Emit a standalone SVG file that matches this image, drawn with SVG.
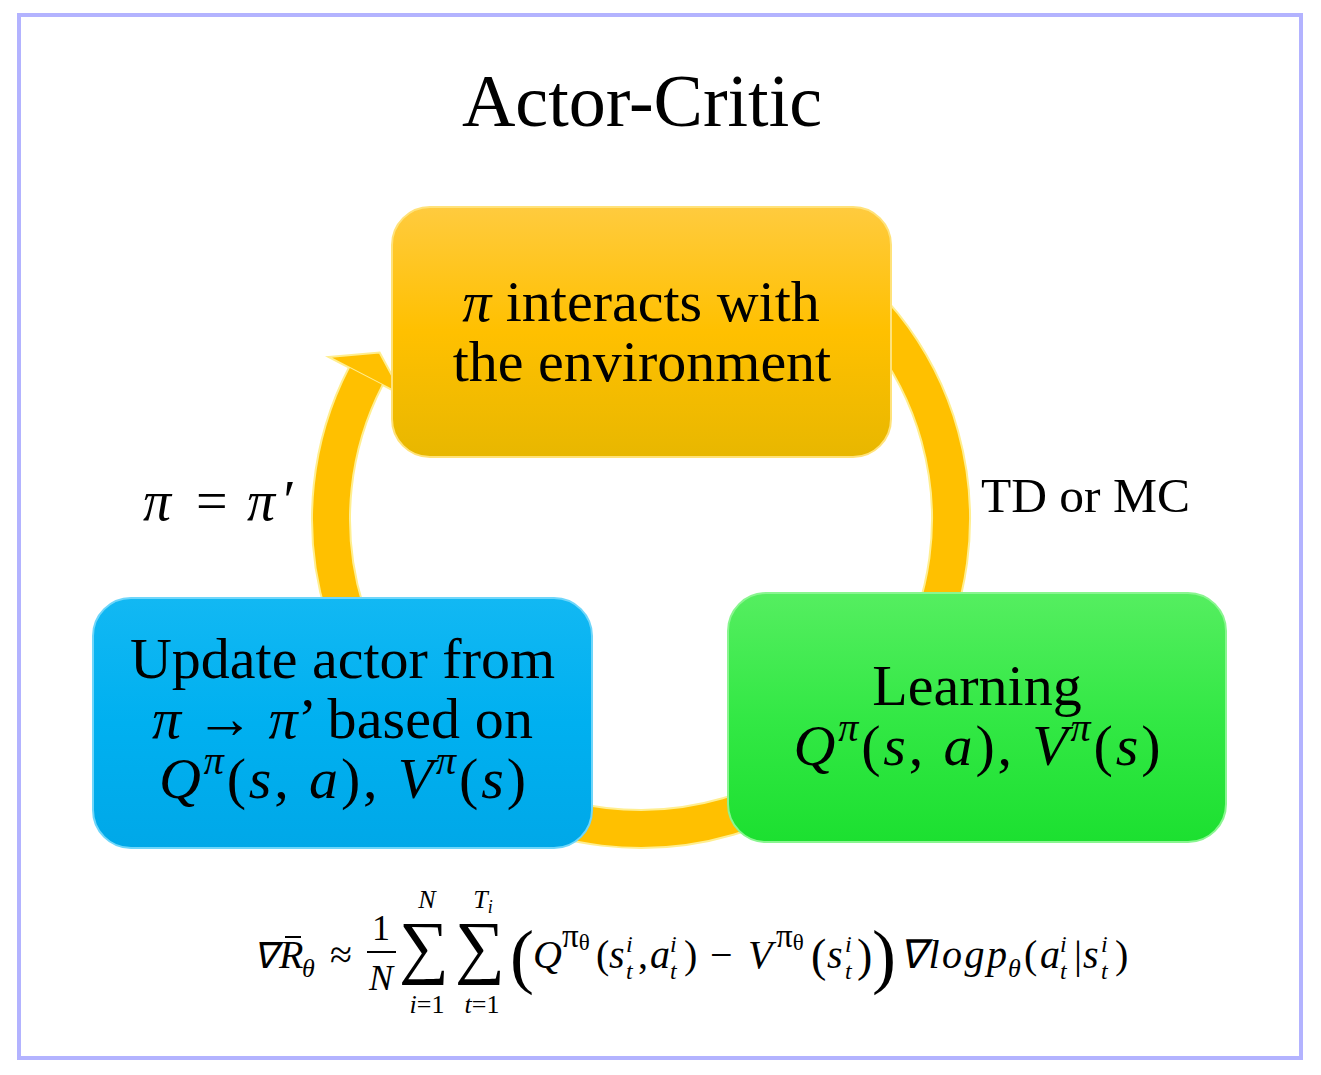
<svg xmlns="http://www.w3.org/2000/svg" width="1321" height="1075" viewBox="0 0 1321 1075">
<defs>
<style>
.t{font-family:"Liberation Serif","Times New Roman",serif;fill:#000}
.m{font-family:"Liberation Serif","Times New Roman",serif;font-style:italic;fill:#000}
.u{font-family:"Liberation Serif","Times New Roman",serif;font-style:normal}
.i{font-style:italic}
</style>
<linearGradient id="gy" x1="0" y1="0" x2="0" y2="1">
<stop offset="0" stop-color="#FFCB3E"/><stop offset="0.5" stop-color="#FFC000"/><stop offset="1" stop-color="#E8B700"/>
</linearGradient>
<linearGradient id="gb" x1="0" y1="0" x2="0" y2="1">
<stop offset="0" stop-color="#12B8F3"/><stop offset="0.5" stop-color="#00B0F0"/><stop offset="1" stop-color="#00A8E8"/>
</linearGradient>
<linearGradient id="gg" x1="0" y1="0" x2="0" y2="1">
<stop offset="0" stop-color="#55EE60"/><stop offset="0.5" stop-color="#33E845"/><stop offset="1" stop-color="#1CE030"/>
</linearGradient>
</defs>
<rect x="19" y="15" width="1282" height="1043" fill="#fff" stroke="#B3B3FF" stroke-width="4"/>
<text class="t" x="642" y="126" font-size="74" text-anchor="middle">Actor-Critic</text>
<g id="connectors">
<polygon points="328.5,357 379.6,352.5 403,395.7" fill="#FFC000" stroke="#FFEE90" stroke-width="2"/>
<path d="M 796 250.5 A 310 310 0 1 1 365.8 376.3" fill="none" stroke="#FFEE90" stroke-width="40"/>
<path d="M 796 250.5 A 310 310 0 1 1 365.8 376.3" fill="none" stroke="#FFC000" stroke-width="36"/>
</g>
<g id="node-interact">
<rect x="392" y="207" width="499" height="250" rx="38" fill="url(#gy)" stroke="#FFE27A" stroke-width="2"/>
<text class="t" x="641" y="321" font-size="58" text-anchor="middle"><tspan class="i">π</tspan> interacts with</text>
<text class="t" x="642" y="381" font-size="58" text-anchor="middle">the environment</text>
</g>
<g id="node-update">
<rect x="93" y="598" width="499" height="250" rx="38" fill="url(#gb)" stroke="#6FD6FA" stroke-width="2"/>
<text class="t" x="342.5" y="678" font-size="58" text-anchor="middle">Update actor from</text>
<text class="t" x="342.5" y="738" font-size="58" text-anchor="middle" textLength="381" lengthAdjust="spacing"><tspan class="i">π</tspan> → <tspan class="i">π</tspan>’ based on</text>
<text class="t" x="342.5" y="798" font-size="58" text-anchor="middle" textLength="367" lengthAdjust="spacing"><tspan class="i">Q</tspan><tspan class="i" font-size="40" dy="-24">π</tspan><tspan dy="24">(</tspan><tspan class="i">s</tspan>, <tspan class="i">a</tspan>), <tspan class="i">V</tspan><tspan class="i" font-size="40" dy="-24">π</tspan><tspan dy="24">(</tspan><tspan class="i">s</tspan>)</text>
</g>
<g id="node-learning">
<rect x="728" y="593" width="498" height="249" rx="38" fill="url(#gg)" stroke="#8AF590" stroke-width="2"/>
<text class="t" x="977" y="705" font-size="58" text-anchor="middle">Learning</text>
<text class="t" x="977" y="765" font-size="58" text-anchor="middle" textLength="367" lengthAdjust="spacing"><tspan class="i">Q</tspan><tspan class="i" font-size="40" dy="-24">π</tspan><tspan dy="24">(</tspan><tspan class="i">s</tspan>, <tspan class="i">a</tspan>), <tspan class="i">V</tspan><tspan class="i" font-size="40" dy="-24">π</tspan><tspan dy="24">(</tspan><tspan class="i">s</tspan>)</text>
</g>
<text class="t" x="981" y="512" font-size="49.5">TD or MC</text>
<text class="t" x="143" y="520" font-size="56"><tspan class="i">π</tspan><tspan x="196">=</tspan><tspan class="i" x="247">π</tspan><tspan class="i" x="280">′</tspan></text>
<g id="formula" class="m" font-size="40">
<text x="253" y="968" font-size="36">∇</text>
<text x="279" y="968">R</text>
<line x1="285" y1="937" x2="301" y2="937" stroke="#000" stroke-width="2"/>
<text x="302" y="977" font-size="26">θ</text>
<text class="u" x="330" y="968">≈</text>
<text class="u" x="381" y="940" font-size="36" text-anchor="middle">1</text>
<line x1="367" y1="952" x2="396" y2="952" stroke="#000" stroke-width="2"/>
<text x="381" y="990" font-size="36" text-anchor="middle">N</text>
<text class="u" x="424" y="970" font-size="70" text-anchor="middle">∑</text>
<text x="427" y="908" font-size="26" text-anchor="middle">N</text>
<text x="427" y="1013" font-size="26" text-anchor="middle">i<tspan class="u">=1</tspan></text>
<text class="u" x="480" y="970" font-size="70" text-anchor="middle">∑</text>
<text x="483" y="908" font-size="26" text-anchor="middle">T<tspan font-size="18" dy="5">i</tspan></text>
<text x="482" y="1013" font-size="26" text-anchor="middle">t<tspan class="u">=1</tspan></text>
<text class="u" x="510" y="980" font-size="72">(</text>
<text x="533" y="968">Q</text>
<text class="u" x="562" y="947" font-size="33">π<tspan font-size="23" dy="3">θ</tspan></text>
<text class="u" x="596" y="968">(</text>
<text x="609" y="968">s</text>
<text x="626" y="952" font-size="24">i</text><text x="626" y="979" font-size="24">t</text>
<text class="u" x="638" y="968">,</text>
<text x="650" y="968">a</text>
<text x="670" y="952" font-size="24">i</text><text x="670" y="979" font-size="24">t</text>
<text class="u" x="684" y="968">)</text>
<text class="u" x="710" y="968">−</text>
<text x="748" y="968">V</text>
<text class="u" x="776" y="947" font-size="33">π<tspan font-size="23" dy="3">θ</tspan></text>
<text class="u" x="811" y="971" font-size="46">(</text>
<text x="827" y="968">s</text>
<text x="845" y="952" font-size="24">i</text><text x="845" y="979" font-size="24">t</text>
<text class="u" x="857" y="971" font-size="46">)</text>
<text class="u" x="872" y="980" font-size="72">)</text>
<text x="899" y="968" textLength="108" lengthAdjust="spacing">∇logp</text>
<text x="1008" y="977" font-size="26">θ</text>
<text class="u" x="1024" y="968">(</text>
<text x="1040" y="968">a</text>
<text x="1060" y="952" font-size="24">i</text><text x="1060" y="979" font-size="24">t</text>
<text class="u" x="1074" y="968">|</text>
<text x="1083" y="968">s</text>
<text x="1101" y="952" font-size="24">i</text><text x="1101" y="979" font-size="24">t</text>
<text class="u" x="1115" y="968">)</text>
</g>
</svg>
